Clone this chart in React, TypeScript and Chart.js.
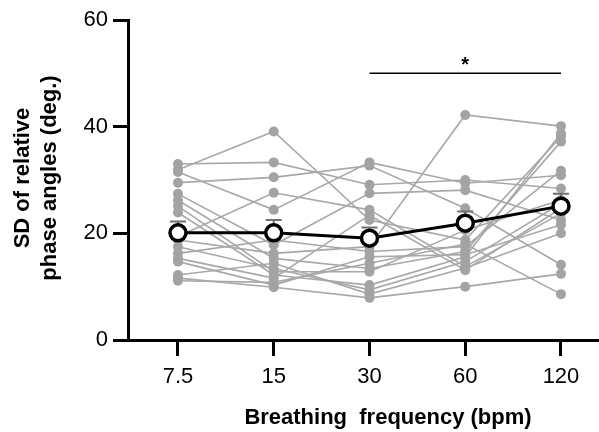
import React, { useEffect, useRef } from "react";
import { Chart, registerables } from "chart.js";

Chart.register(...registerables);

const categories = ["7.5", "15", "30", "60", "120"];
const yTicks = [0, 20, 40, 60];

const subjects: number[][] = [
  [33.0, 33.3, 29.1, 30.0, 28.4],
  [31.9, 39.1, 22.5, 18.75, 38.1],
  [31.5, 24.4, 33.3, 29.4, 30.9],
  [29.5, 30.5, 32.7, 24.7, 14.1],
  [27.4, 17.8, 27.5, 28.1, 22.5],
  [26.2, 15.3, 13.4, 16.6, 37.2],
  [25.1, 12.8, 12.8, 20.6, 26.25],
  [23.9, 12.2, 10.3, 15.6, 38.75],
  [19.4, 27.6, 24.4, 13.75, 23.75],
  [18.75, 16.25, 17.5, 42.2, 40.1],
  [17.5, 13.4, 9.4, 14.7, 25.6],
  [16.25, 18.75, 16.6, 17.5, 31.75],
  [15.3, 11.6, 23.4, 13.1, 24.7],
  [14.7, 10.3, 15.6, 16.0, 21.6],
  [12.2, 14.4, 8.6, 13.5, 20.0],
  [11.6, 9.9, 7.9, 10.0, 12.4],
  [11.1, 10.8, 14.4, 18.0, 8.6],
];

const meanValues = [20.1, 20.1, 19.1, 21.9, 25.1];
const semValues = [2.1, 2.4, 2.0, 2.2, 2.3];

const sigFrom = 2;
const sigTo = 4;
const sigLevel = 50;
const sigLabel = "*";

const xTitle = "Breathing  frequency (bpm)";
const yTitleLines = ["SD of relative", "phase angles (deg.)"];

const FONT = '"Liberation Sans", Arial, sans-serif';

export default function App() {
  const ref = useRef<HTMLCanvasElement | null>(null);

  useEffect(() => {
    if (!ref.current) return;

    const overlay = {
      id: "overlay",
      beforeDatasetDraw(chart: any, args: any) {
        if (args.index !== 0) return;
        const { ctx } = chart;
        const x = chart.scales.x;
        const y = chart.scales.y;
        ctx.save();
        ctx.strokeStyle = "#707070";
        ctx.lineWidth = 2;
        meanValues.forEach((m, i) => {
          const px = x.getPixelForValue(i);
          const p0 = y.getPixelForValue(m);
          const p1 = y.getPixelForValue(m + semValues[i]);
          ctx.beginPath();
          ctx.moveTo(px, p0);
          ctx.lineTo(px, p1);
          ctx.moveTo(px - 8, p1);
          ctx.lineTo(px + 8, p1);
          ctx.stroke();
        });
        ctx.restore();
      },
      afterDraw(chart: any) {
        const { ctx } = chart;
        const x = chart.scales.x;
        const y = chart.scales.y;
        ctx.save();
        const yy = y.getPixelForValue(sigLevel);
        const x0 = x.getPixelForValue(sigFrom);
        const x1 = x.getPixelForValue(sigTo);
        ctx.strokeStyle = "#000";
        ctx.lineWidth = 1.5;
        ctx.beginPath();
        ctx.moveTo(x0, yy);
        ctx.lineTo(x1, yy);
        ctx.stroke();
        ctx.fillStyle = "#000";
        ctx.font = `bold 20px ${FONT}`;
        ctx.textAlign = "center";
        ctx.textBaseline = "alphabetic";
        ctx.fillText(sigLabel, (x0 + x1) / 2, yy - 2);
        ctx.font = `bold 22px ${FONT}`;
        ctx.fillText(xTitle, 388, 424);
        ctx.textBaseline = "middle";
        const cy = (chart.chartArea.top + chart.chartArea.bottom) / 2 - 2;
        [23, 50].forEach((tx, i) => {
          ctx.save();
          ctx.translate(tx, cy);
          ctx.rotate(-Math.PI / 2);
          ctx.fillText(yTitleLines[i], 0, 0);
          ctx.restore();
        });
        ctx.restore();
      },
    };

    const grayDatasets = subjects.map((s, k) => ({
      label: `S${k + 1}`,
      data: s.map((v, i) => ({ x: i, y: v })),
      borderColor: "#a8a8a8",
      backgroundColor: "#a3a3a3",
      borderWidth: 1.6,
      pointRadius: 5,
      pointBorderWidth: 0,
      pointBackgroundColor: "#a3a3a3",
      order: 2,
    }));

    const chart = new Chart(ref.current, {
      type: "line",
      data: {
        datasets: [
          {
            label: "Mean",
            data: meanValues.map((v, i) => ({ x: i, y: v })),
            borderColor: "#000",
            borderWidth: 3,
            pointRadius: 8,
            pointBorderWidth: 3.5,
            pointBorderColor: "#000",
            pointBackgroundColor: "#fff",
            order: 0,
          },
          ...grayDatasets,
        ],
      },
      options: {
        animation: false,
        responsive: false,
        layout: { autoPadding: false, padding: { top: 20, left: 0, right: 0, bottom: 0 } },
        plugins: { legend: { display: false }, tooltip: { enabled: false } },
        scales: {
          x: {
            type: "linear",
            min: -0.522,
            max: 4.397,
            afterBuildTicks: (scale: any) => {
              scale.ticks = categories.map((_, i) => ({ value: i }));
            },
            afterFit: (scale: any) => {
              scale.height = 92;
            },
            ticks: {
              callback: (v: any) => categories[v] ?? "",
              color: "#000",
              font: { family: FONT, size: 22 },
              padding: 8,
              maxRotation: 0,
              autoSkip: false,
            },
            grid: {
              display: true,
              drawOnChartArea: false,
              drawTicks: true,
              tickLength: 16,
              tickWidth: 3,
              tickColor: "#000",
              color: "#000",
            },
            border: { display: true, color: "#000", width: 3 },
          },
          y: {
            min: 0,
            max: 60,
            afterBuildTicks: (scale: any) => {
              scale.ticks = yTicks.map((v) => ({ value: v }));
            },
            afterFit: (scale: any) => {
              scale.width = 128;
            },
            ticks: {
              color: "#000",
              font: { family: FONT, size: 22 },
              padding: 5,
            },
            grid: {
              display: true,
              drawOnChartArea: false,
              drawTicks: true,
              tickLength: 15,
              tickWidth: 3,
              tickColor: "#000",
              color: "#000",
            },
            border: { display: true, color: "#000", width: 3 },
          },
        },
      },
      plugins: [overlay],
    });

    return () => chart.destroy();
  }, []);

  return (
    <div style={{ position: "fixed", left: 0, top: 0, width: 599, height: 432, background: "#fff" }}>
      <canvas ref={ref} width={599} height={432} style={{ display: "block" }} />
    </div>
  );
}
